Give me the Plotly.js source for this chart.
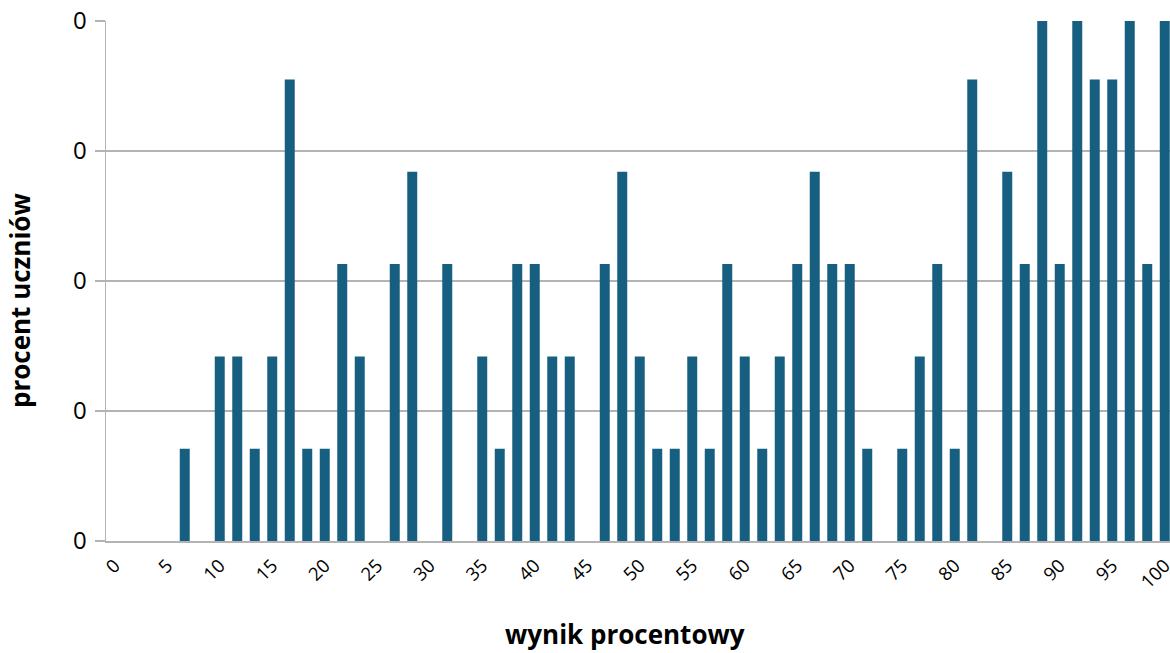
<!DOCTYPE html>
<html>
<head>
<meta charset="utf-8">
<script src="https://cdn.plot.ly/plotly-3.0.1.min.js"></script>
<style>
html, body { margin: 0; padding: 0; overflow: hidden; background: #fff; }
#chart { width: 1170px; height: 653px; }
</style>
</head>
<body>
<div id="chart"></div>
<script>
// score categories (percent result)
const categories = [0, 1.7, 3.3, 5, 6.7, 8.3, 10, 11.7, 13.3, 15, 16.7, 18.3, 20, 21.7, 23.3, 25, 26.7, 28.3, 30, 31.7, 33.3, 35, 36.7, 38.3, 40, 41.7, 43.3, 45, 46.7, 48.3, 50, 51.7, 53.3, 55, 56.7, 58.3, 60, 61.7, 63.3, 65, 66.7, 68.3, 70, 71.7, 73.3, 75, 76.7, 78.3, 80, 81.7, 83.3, 85, 86.7, 88.3, 90, 91.7, 93.3, 95, 96.7, 98.3, 100];

// share of students (fraction)
const values = [0, 0, 0, 0, 0.00355, 0, 0.0071, 0.0071, 0.00355, 0.0071,
  0.01775, 0.00355, 0.00355, 0.01065, 0.0071, 0, 0.01065, 0.0142, 0, 0.01065,
  0, 0.0071, 0.00355, 0.01065, 0.01065, 0.0071, 0.0071, 0, 0.01065, 0.0142,
  0.0071, 0.00355, 0.00355, 0.0071, 0.00355, 0.01065, 0.0071, 0.00355, 0.0071, 0.01065,
  0.0142, 0.01065, 0.01065, 0.00355, 0, 0.00355, 0.0071, 0.01065, 0.00355, 0.01775,
  0, 0.0142, 0.01065, 0.0213, 0.01065, 0.0213, 0.01775, 0.01775, 0.0213, 0.01065,
  0.0213];

const tickLabels = ["0", "5", "10", "15", "20", "25", "30", "35", "40", "45", "50", "55", "60", "65", "70", "75", "80", "85", "90", "95", "100"];

const xTitle = "wynik procentowy";
const yTitle = "procent uczniów";

const trace = {
  type: 'bar',
  x: categories.map(String),
  y: values,
  marker: { color: '#165f80' },
  hoverinfo: 'x+y'
};

const gridColor = '#b3b3b3';

const layout = {
  width: 1170,
  height: 653,
  margin: { l: 106, r: 0, t: 21, b: 112 },
  paper_bgcolor: '#ffffff',
  plot_bgcolor: '#ffffff',
  font: { family: 'Open Sans, Noto Sans, sans-serif', color: '#000000' },
  bargap: 0.43,
  showlegend: false,
  xaxis: {
    type: 'category',
    range: [-0.5, 60.3],
    tickmode: 'array',
    tickvals: tickLabels,
    ticktext: tickLabels,
    tickangle: -45,
    tickfont: { size: 18.5, family: 'Open Sans, sans-serif', color: '#000' },
    ticklabelstandoff: 5,
    showgrid: false,
    showline: true,
    linecolor: gridColor,
    linewidth: 1.5,
    ticks: '',
    zeroline: false,
    fixedrange: true
  },
  yaxis: {
    range: [0, 0.02],
    dtick: 0.005,
    tick0: 0,
    tickformat: '.0f',
    tickfont: { size: 24, family: 'Open Sans, sans-serif', color: '#000' },
    ticklabelstandoff: 3,
    showgrid: true,
    gridcolor: gridColor,
    gridwidth: 1.5,
    showline: true,
    linecolor: gridColor,
    linewidth: 1.5,
    ticks: 'outside',
    ticklen: 10,
    tickcolor: gridColor,
    tickwidth: 1.5,
    zeroline: false,
    fixedrange: true
  },
  annotations: [
    {
      text: '<b>' + xTitle + '</b>',
      xref: 'paper', yref: 'paper',
      x: 0.488, y: -0.179,
      xanchor: 'center', yanchor: 'middle',
      showarrow: false,
      font: { size: 26, family: 'Open Sans, sans-serif', color: '#000' }
    },
    {
      text: '<b>' + yTitle + '</b>',
      xref: 'paper', yref: 'paper',
      x: -0.081, y: 0.463,
      xanchor: 'center', yanchor: 'middle',
      textangle: -90,
      showarrow: false,
      font: { size: 26, family: 'Open Sans, sans-serif', color: '#000' }
    }
  ]
};

Plotly.newPlot('chart', [trace], layout, { displayModeBar: false, staticPlot: true });
</script>
</body>
</html>
